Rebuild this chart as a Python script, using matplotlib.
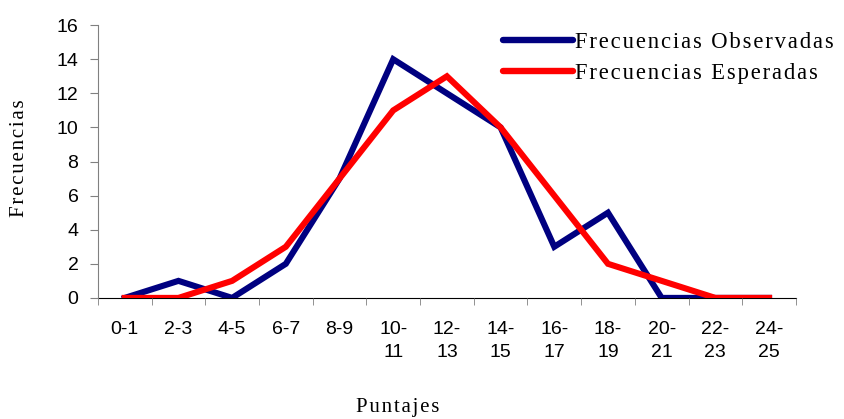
import numpy as np
import matplotlib.pyplot as plt

categories = ["0-1", "2-3", "4-5", "6-7", "8-9", "10-\n11", "12-\n13", "14-\n15",
              "16-\n17", "18-\n19", "20-\n21", "22-\n23", "24-\n25"]
observed = [0, 1, 0, 2, 7, 14, 12, 10, 3, 5, 0, 0, 0]
expected = [0, 0, 1, 3, 7, 11, 13, 10, 6, 2, 1, 0, 0]
y_ticks = list(range(0, 17, 2))


def spaced(s):
    # the original has loose letter spacing, fake it with hair spaces
    return "\n".join("\u200a".join(line) for line in s.split("\n"))


fig = plt.figure(figsize=(8.44, 4.19), dpi=100)
ax = fig.add_axes([0.116, 0.289, 0.827, 0.651])

x = np.arange(len(categories))
ax.plot(x, observed, color="#000080", lw=4.4, solid_joinstyle="miter",
        label=spaced("Frecuencias Observadas"))
ax.plot(x, expected, color="#ff0000", lw=4.4, solid_joinstyle="miter",
        label=spaced("Frecuencias Esperadas"))

ax.set_xlim(-0.5, len(categories) - 0.5)
ax.set_ylim(0, 16)
ax.set_yticks(y_ticks)
ax.set_yticklabels([str(v) for v in y_ticks],
                   fontfamily="Liberation Sans", fontsize=14)
ax.set_xticks(x)
ax.set_xticklabels(categories, fontfamily="Liberation Sans",
                   fontsize=14, linespacing=1.45, va="top")
ax.set_xticks(np.arange(-0.5, len(categories)), minor=True)
ax.tick_params(axis="x", which="major", length=0, pad=16.5)
ax.tick_params(axis="x", which="minor", length=5, direction="out", color="#808080")
ax.tick_params(axis="y", length=6, direction="out", color="#808080", pad=8)

for side in ["top", "right"]:
    ax.spines[side].set_visible(False)
ax.spines["left"].set_color("#808080")
ax.spines["bottom"].set_color("#000000")
ax.spines["bottom"].set_zorder(0)

fig.text(20 / 844, 1 - 158 / 419, spaced("Frecuencias"), rotation=90,
         fontfamily="Liberation Serif", fontsize=15, ha="center", va="center")
fig.text(398 / 844, 1 - 407 / 419, spaced("Puntajes"),
         fontfamily="Liberation Serif", fontsize=15, ha="center", va="center")

leg = fig.legend(loc="upper left", bbox_to_anchor=(503 / 844, 1 - 32 / 419),
                 frameon=False, borderpad=0, borderaxespad=0,
                 prop={"family": "Liberation Serif", "size": 16.3},
                 handlelength=3.1, handletextpad=0.1, labelspacing=0.45)
for line in leg.get_lines():
    line.set_solid_capstyle("round")
    line.set_linewidth(4.6)

fig.savefig("out.png", dpi=100)
